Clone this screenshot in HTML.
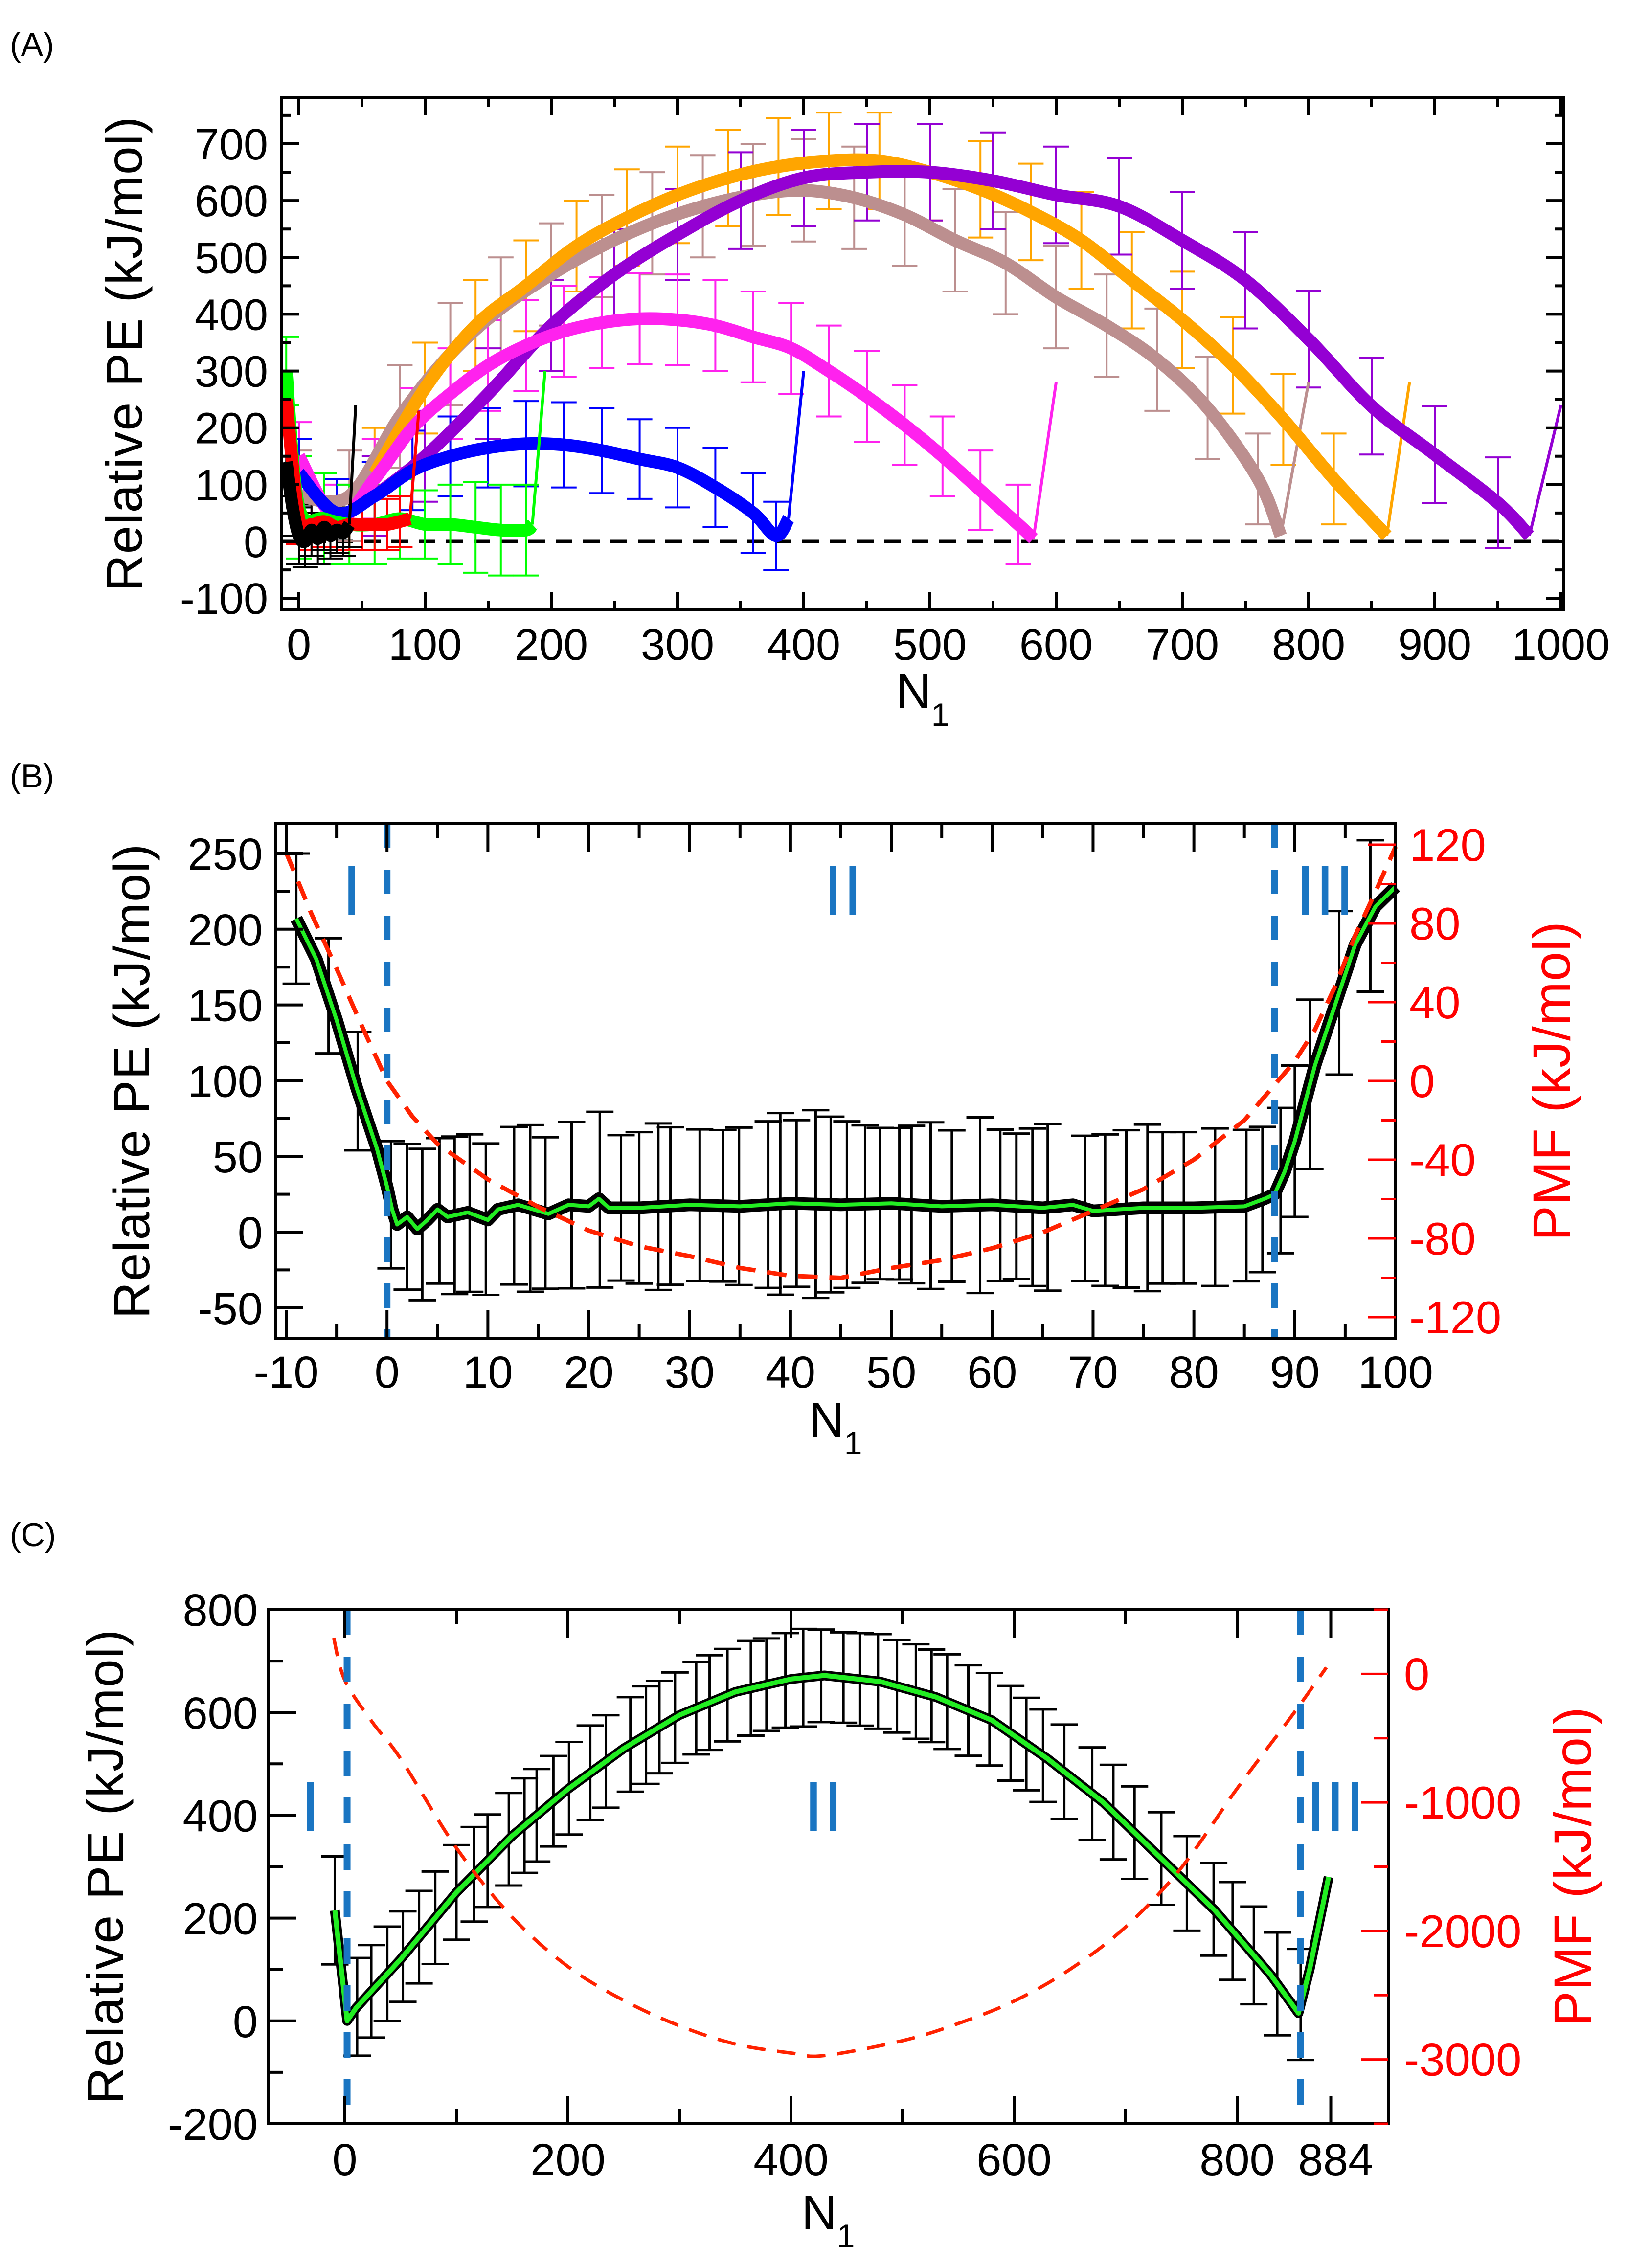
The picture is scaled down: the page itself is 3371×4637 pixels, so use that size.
<!DOCTYPE html>
<html><head><meta charset="utf-8">
<style>
html,body{margin:0;padding:0;background:#fff;}
svg{display:block;}
text{font-family:"Liberation Sans",sans-serif;}
</style></head>
<body>
<svg id="fig" width="3371" height="4637" viewBox="0 0 3371 4637" xmlns="http://www.w3.org/2000/svg">
<rect x="0" y="0" width="3371" height="4637" fill="#fff"/>
</svg>
<script>
// ---------- Panel A data ----------
const aBlackX = [-10, -5, 0, 5, 10, 15, 20, 25, 30, 35, 40, 45];
const aBlackY = [140, 60, 10, 0, 20, 5, 25, 10, 20, 15, 30, 240];
const aBlackErr = [60, 50, 50, 45, 45, 45, 40, 40, 40, 40, 40, 0];
const aRedX = [-10, 0, 10, 20, 30, 40, 50, 60, 70, 80, 88, 95];
const aRedY = [250, 40, 30, 35, 25, 30, 30, 30, 30, 35, 40, 230];
const aRedErr = [50, 45, 45, 45, 45, 45, 45, 45, 45, 45, 0, 0];
const aGreenX = [-10, 0, 20, 40, 60, 80, 100, 120, 140, 160, 180, 185, 195];
const aGreenY = [300, 60, 40, 30, 30, 40, 30, 30, 25, 20, 20, 30, 300];
const aGreenErr = [60, 90, 80, 70, 70, 70, 60, 70, 80, 80, 80, 0, 0];
const aBlueX = [0, 30, 60, 90, 120, 150, 180, 210, 240, 270, 300, 330, 360, 378, 388, 400];
const aBlueY = [120, 50, 80, 125, 150, 165, 172, 170, 160, 145, 130, 95, 50, 10, 40, 300];
const aBlueErr = [60, 60, 60, 70, 70, 70, 75, 75, 75, 70, 70, 70, 70, 60, 0, 0];
const aMagX = [0, 30, 60, 90, 120, 150, 180, 210, 240, 270, 300, 330, 360, 390, 420, 450, 480, 510, 540, 570, 582, 600];
const aMagY = [150, 40, 110, 200, 260, 310, 345, 370, 385, 392, 390, 380, 360, 340, 300, 255, 205, 150, 90, 30, 5, 280];
const aMagErr = [60, 60, 70, 70, 80, 80, 80, 80, 80, 80, 80, 80, 80, 80, 80, 80, 70, 70, 70, 70, 0, 0];
const aTanX = [0, 40, 80, 120, 160, 200, 240, 280, 320, 360, 400, 440, 480, 520, 560, 600, 640, 680, 720, 760, 778, 800];
const aTanY = [80, 80, 220, 330, 410, 470, 520, 560, 590, 610, 618, 605, 575, 530, 490, 430, 380, 320, 235, 110, 10, 280];
const aTanErr = [80, 80, 90, 90, 90, 90, 90, 90, 90, 90, 90, 90, 90, 90, 90, 90, 90, 90, 90, 80, 0, 0];
const aOrX = [60, 100, 140, 180, 220, 260, 300, 340, 380, 420, 460, 500, 540, 580, 620, 660, 700, 740, 780, 820, 862, 880];
const aOrY = [120, 270, 380, 450, 520, 570, 610, 640, 660, 670, 670, 650, 620, 580, 530, 460, 390, 310, 215, 110, 10, 280];
const aOrErr = [80, 80, 80, 80, 80, 85, 85, 85, 85, 85, 85, 85, 85, 85, 85, 85, 85, 85, 80, 80, 0, 0];
const aPurX = [60, 100, 150, 200, 250, 300, 350, 400, 450, 500, 550, 600, 650, 700, 750, 800, 850, 900, 950, 975, 1000];
const aPurY = [80, 150, 260, 380, 470, 540, 600, 640, 650, 650, 635, 610, 590, 530, 460, 356, 238, 153, 68, 10, 240];
const aPurErr = [70, 80, 80, 80, 80, 80, 85, 85, 85, 85, 85, 85, 85, 85, 85, 85, 85, 85, 80, 0, 0];
const aXTicks = [0, 100, 200, 300, 400, 500, 600, 700, 800, 900, 1000];
const aYTicks = [-100, 0, 100, 200, 300, 400, 500, 600, 700];

// ---------- Panel B data ----------
const bX = [-9, -7, -5, -3, -1, 0, 0.5, 1, 2, 3, 4, 5, 6, 8, 10, 11, 13, 16, 18, 20, 21, 22, 25, 30, 35, 40, 45, 50, 55, 60, 65, 68, 70, 75, 80, 85, 87, 88, 89, 90, 92, 94, 96, 98, 100];
const bY = [207, 180, 140, 95, 55, 30, 15, 5, 10, 2, 8, 15, 10, 13, 8, 15, 18, 12, 18, 17, 22, 16, 16, 18, 17, 19, 18, 19, 17, 18, 16, 18, 14, 16, 16, 17, 22, 25, 40, 60, 110, 150, 190, 215, 228];
const bErrX = [-9, -5.8, -2.9, 0.4, 2, 3.5, 5.2, 6.7, 8.2, 9.8, 12.6, 14.2, 15.7, 18.3, 21.1, 23.2, 25, 26.9, 28.1, 31, 33.3, 34.9, 37.8, 39, 40.6, 42.5, 44, 45.6, 47.4, 48.9, 50.8, 52, 53.9, 56, 58.8, 60.8, 62.4, 64, 65.5, 69.2, 71.2, 73.3, 75.4, 76.9, 79, 82.1, 85.2, 86.8, 88.6, 90, 91.5, 94.4, 97.5];
const bErrHalf = [43, 38, 39, 42, 48, 50, 48, 52, 52, 50, 52, 55, 50, 55, 58, 48, 50, 55, 52, 50, 50, 52, 55, 60, 55, 62, 58, 55, 52, 50, 50, 52, 55, 50, 58, 50, 48, 52, 55, 48, 50, 52, 55, 50, 50, 52, 50, 48, 48, 50, 56, 54, 50];
const bPmfX = [-10, -7.5, -5, -2.5, 0, 2.5, 5, 10, 15, 20, 25, 30, 35, 40, 45, 50, 55, 60, 65, 70, 75, 80, 85, 88, 90, 92, 94, 96, 98, 100];
const bPmfY = [116, 85, 57, 28, 0, -18, -32, -50, -64, -76, -84, -89, -95, -99, -100, -95, -91, -85, -77, -66, -55, -40, -20, -2, 10, 26, 48, 74, 96, 119];
const bXTicks = [-10, 0, 10, 20, 30, 40, 50, 60, 70, 80, 90, 100];
const bYTicks = [-50, 0, 50, 100, 150, 200, 250];
const bY2Ticks = [-120, -80, -40, 0, 40, 80, 120];

// ---------- Panel C data ----------
const cX = [-9, 2, 10, 50, 100, 150, 200, 250, 300, 350, 400, 430, 480, 530, 580, 630, 680, 730, 780, 830, 855, 865, 882];
const cY = [215, 0, 25, 120, 250, 360, 451, 530, 595, 640, 665, 672, 660, 630, 585, 510, 425, 320, 215, 90, 15, 100, 280];
const cErrX = [-9, 11, 23.7, 38, 52, 66.5, 81, 100, 116, 128, 147, 161, 172, 187, 201, 220, 234, 256, 270, 282, 296, 315, 327, 343, 364, 378, 395, 411, 427, 447, 462, 478, 495, 512, 526, 540, 559, 578, 597, 611, 626, 645, 670, 689, 708, 732, 755, 779, 796, 815, 836, 857];
const cErrHalf = [105, 95, 90, 92, 88, 90, 90, 92, 92, 90, 90, 92, 90, 88, 90, 92, 90, 92, 95, 90, 88, 90, 92, 90, 92, 90, 92, 95, 90, 88, 90, 92, 90, 92, 90, 92, 88, 90, 92, 90, 90, 92, 90, 92, 90, 90, 92, 90, 95, 95, 100, 108];
const cPmfX = [-10, 0, 25, 50, 100, 150, 200, 250, 300, 350, 400, 430, 500, 550, 600, 650, 700, 750, 800, 850, 880];
const cPmfY = [280, -50, -380, -660, -1354, -1892, -2277, -2540, -2738, -2880, -2950, -2970, -2854, -2720, -2546, -2300, -1969, -1508, -892, -315, 50];
const cXTicks = [0, 200, 400, 600, 800, 884];
const cYTicks = [-200, 0, 200, 400, 600, 800];
const cY2Ticks = [-3000, -2000, -1000, 0];

// ---------- helpers ----------
const NS = 'http://www.w3.org/2000/svg';
const svg = document.getElementById('fig');
function mk(tag, attrs, name, parent) {
  const el = document.createElementNS(NS, tag);
  for (const k in attrs) el.setAttribute(k, attrs[k]);
  
  
  (parent || svg).appendChild(el);
  return el;
}
function txt(x, y, s, size, name, opts) {
  opts = opts || {};
  const el = mk('text', {x: x, y: y, 'font-size': size, fill: opts.fill || '#000', 'text-anchor': opts.anchor || 'middle'}, name);
  if (opts.ls) el.setAttribute('letter-spacing', opts.ls);
  if (opts.rot) el.setAttribute('transform', 'rotate(' + opts.rot + ' ' + x + ' ' + y + ')');
  el.textContent = s;
  return el;
}
function axisFn(d0, d1, p0, p1) { return v => p0 + (v - d0) / (d1 - d0) * (p1 - p0); }
function pathOf(xs, ys, sx, sy) {
  let d = '';
  for (let i = 0; i < xs.length; i++) d += (i ? 'L' : 'M') + sx(xs[i]).toFixed(1) + ' ' + sy(ys[i]).toFixed(1);
  return d;
}
function smoothPath(xs, ys, sx, sy) {
  const P = xs.map((x, i) => [sx(x), sy(ys[i])]);
  let d = 'M' + P[0][0].toFixed(1) + ' ' + P[0][1].toFixed(1);
  for (let i = 0; i < P.length - 1; i++) {
    const p0 = P[Math.max(0, i - 1)], p1 = P[i], p2 = P[i + 1], p3 = P[Math.min(P.length - 1, i + 2)];
    const c1 = [p1[0] + (p2[0] - p0[0]) / 6, p1[1] + (p2[1] - p0[1]) / 6];
    const c2 = [p2[0] - (p3[0] - p1[0]) / 6, p2[1] - (p3[1] - p1[1]) / 6];
    d += 'C' + c1[0].toFixed(1) + ' ' + c1[1].toFixed(1) + ' ' + c2[0].toFixed(1) + ' ' + c2[1].toFixed(1) + ' ' + p2[0].toFixed(1) + ' ' + p2[1].toFixed(1);
  }
  return d;
}
function interp(xs, ys, x) {
  if (x <= xs[0]) return ys[0];
  for (let i = 1; i < xs.length; i++) if (x <= xs[i]) { const t = (x - xs[i-1]) / (xs[i] - xs[i-1]); return ys[i-1] + t * (ys[i] - ys[i-1]); }
  return ys[ys.length - 1];
}
function errBar(x, c, h, sx, sy, color, cap, w, name) {
  const X = sx(x), T = sy(c + h), B = sy(c - h);
  mk('path', {d: 'M' + X + ' ' + T + 'V' + B + 'M' + (X - cap/2) + ' ' + T + 'h' + cap + 'M' + (X - cap/2) + ' ' + B + 'h' + cap, stroke: color, 'stroke-width': w, fill: 'none'}, name);
}
function frame(L, T, R, B, name) {
  mk('rect', {x: L, y: T, width: R - L, height: B - T, fill: 'none', stroke: '#000', 'stroke-width': 6}, name);
}
function xTicks(vals, minor, sx, T, B, major, minorLen, name) {
  for (const v of vals) mk('path', {d: 'M' + sx(v) + ' ' + B + 'v' + (-major) + 'M' + sx(v) + ' ' + T + 'v' + major, stroke: '#000', 'stroke-width': 6}, name + '-major-tick');
  for (const v of minor) mk('path', {d: 'M' + sx(v) + ' ' + B + 'v' + (-minorLen) + 'M' + sx(v) + ' ' + T + 'v' + minorLen, stroke: '#000', 'stroke-width': 6}, name + '-minor-tick');
}
function yTicks(vals, minor, sy, L, R, major, minorLen, both, name) {
  for (const v of vals) mk('path', {d: 'M' + L + ' ' + sy(v) + 'h' + major + (both ? 'M' + R + ' ' + sy(v) + 'h' + (-major) : ''), stroke: '#000', 'stroke-width': 6}, name + '-major-tick');
  for (const v of minor) mk('path', {d: 'M' + L + ' ' + sy(v) + 'h' + minorLen + (both ? 'M' + R + ' ' + sy(v) + 'h' + (-minorLen) : ''), stroke: '#000', 'stroke-width': 6}, name + '-minor-tick');
}
function range(a, b, s) { const r = []; for (let v = a; v <= b + 1e-9; v += s) r.push(v); return r; }
function n1Label(cx, base, name) {
  const t = txt(cx, base, 'N', 100, name);
  const sub = document.createElementNS(NS, 'tspan');
  sub.setAttribute('font-size', 66);
  sub.setAttribute('dy', 36);
  sub.textContent = '1';
  t.appendChild(sub);
}

// ================= PANEL A =================
(function () {
  const L = 576, R = 3196, T = 200, B = 1247;
  const sx = axisFn(0, 1000, 611, 3191), sy = axisFn(0, 700, 1107, 294);
  txt(20, 114, '(A)', 68, 'panel-a-label', {anchor: 'start'});
  mk('line', {x1: L, x2: R, y1: sy(0), y2: sy(0), stroke: '#000', 'stroke-width': 7, 'stroke-dasharray': '34 22'}, 'zero-reference-line');
  const series = [
    ['#bc8f8f', aTanX, aTanY, aTanErr, 'tan-series'],
    ['#ffa500', aOrX, aOrY, aOrErr, 'orange-series'],
    ['#9400d3', aPurX, aPurY, aPurErr, 'purple-series'],
    ['#ff22ee', aMagX, aMagY, aMagErr, 'magenta-series'],
    ['#0000ff', aBlueX, aBlueY, aBlueErr, 'blue-series'],
    ['#00ff00', aGreenX, aGreenY, aGreenErr, 'green-series'],
    ['#ff0000', aRedX, aRedY, aRedErr, 'red-series'],
    ['#000000', aBlackX, aBlackY, aBlackErr, 'black-series']
  ];
  for (const s of series) {
    for (let i = 0; i < s[1].length; i++) if (s[3][i] > 0) errBar(s[1][i], s[2][i], s[3][i], sx, sy, s[0], 52, 4, s[4] + '-error-bar');
  }
  for (const s of series) {
    const n = s[1].length;
    mk('path', {d: smoothPath(s[1].slice(0, n - 1), s[2].slice(0, n - 1), sx, sy), stroke: s[0], 'stroke-width': 26, fill: 'none', 'stroke-linejoin': 'round'}, s[4] + '-band');
    mk('path', {d: pathOf(s[1].slice(n - 2), s[2].slice(n - 2), sx, sy), stroke: s[0], 'stroke-width': 6, fill: 'none'}, s[4] + '-tail');
  }
  mk('rect', {x: 0, y: T - 3, width: L - 3, height: B - T + 6, fill: '#fff'}, 'left-mask');
  frame(L, T, R, B, 'panel-a-frame');
  xTicks(aXTicks, range(50, 950, 100), sx, T, B, 36, 18, 'panel-a-x');
  yTicks(aYTicks, range(-50, 750, 100), sy, L, R, 36, 18, true, 'panel-a-y');
  for (const v of aXTicks) txt(sx(v), 1349, String(v), 90, 'panel-a-x-tick-label');
  for (const v of aYTicks) txt(548, sy(v) + 32, String(v), 90, 'panel-a-y-tick-label', {anchor: 'end'});
  n1Label(1886, 1448, 'panel-a-x-axis-title');
  txt(254 + 36, 723, 'Relative PE (kJ/mol)', 104, 'panel-a-y-axis-title', {rot: -90, ls: 1.5});
})();

// ================= PANEL B =================
(function () {
  const L = 563, R = 2853, T = 1684, B = 2736;
  const sx = axisFn(-10, 100, 585, 2853), sy = axisFn(0, 250, 2519, 1745), sy2 = axisFn(0, 120, 2210, 1727);
  txt(20, 1610, '(B)', 68, 'panel-b-label', {anchor: 'start'});
  for (let i = 0; i < bErrX.length; i++) errBar(bErrX[i], interp(bX, bY, bErrX[i]), bErrHalf[i], sx, sy, '#000', 56, 5, 'panel-b-error-bar');
  mk('path', {d: pathOf(bX, bY, sx, sy), stroke: '#000', 'stroke-width': 26, fill: 'none', 'stroke-linejoin': 'round'}, 'panel-b-raw-pe');
  mk('path', {d: pathOf(bX, bY, sx, sy), stroke: '#22ee22', 'stroke-width': 8, fill: 'none', 'stroke-linejoin': 'round'}, 'panel-b-smoothed-pe');
  mk('path', {d: pathOf(bPmfX, bPmfY, sx, sy2), stroke: '#ff2200', 'stroke-width': 9, fill: 'none', 'stroke-dasharray': '40 24'}, 'panel-b-pmf-curve');
  for (const v of [0, 88]) mk('line', {x1: sx(v), x2: sx(v), y1: T, y2: B, stroke: '#1a75c2', 'stroke-width': 14, 'stroke-dasharray': '50 44'}, 'region-boundary-line');
  txt(sx(-3.5), 1870, 'I', 145, 'region-i-label', {fill: '#1a75c2'});
  txt(sx(45.2), 1870, 'II', 145, 'region-ii-label', {fill: '#1a75c2'});
  txt(sx(93), 1870, 'III', 145, 'region-iii-label', {fill: '#1a75c2'});
  frame(L, T, R, B, 'panel-b-frame');
  xTicks(bXTicks, range(-5, 95, 10), sx, T, B, 57, 30, 'panel-b-x');
  yTicks(bYTicks, range(-25, 225, 50), sy, L, R, 57, 30, false, 'panel-b-y');
  for (const v of bY2Ticks) mk('path', {d: 'M' + R + ' ' + sy2(v) + 'h-56', stroke: '#ff0000', 'stroke-width': 5}, 'panel-b-right-major-tick');
  for (const v of range(-100, 100, 40)) mk('path', {d: 'M' + R + ' ' + sy2(v) + 'h-30', stroke: '#ff0000', 'stroke-width': 5}, 'panel-b-right-minor-tick');
  for (const v of bXTicks) txt(sx(v), 2837, String(v), 92, 'panel-b-x-tick-label');
  for (const v of bYTicks) txt(537, sy(v) + 33, String(v), 92, 'panel-b-y-tick-label', {anchor: 'end'});
  for (const v of bY2Ticks) txt(2881, sy2(v) + 33, String(v), 94, 'panel-b-right-tick-label', {anchor: 'start', fill: '#ff0000'});
  n1Label(1708, 2937, 'panel-b-x-axis-title');
  txt(269 + 36, 2210, 'Relative PE (kJ/mol)', 104, 'panel-b-y-axis-title', {rot: -90, ls: 1.5});
  txt(3171 + 38, 2210, 'PMF (kJ/mol)', 108, 'panel-b-right-axis-title', {rot: -90, fill: '#ff0000', ls: 1});
})();

// ================= PANEL C =================
(function () {
  const L = 548, R = 2838, T = 3291, B = 4342;
  const sx = axisFn(0, 800, 705, 2529), sy = axisFn(-200, 800, 4342, 3291), sy2 = axisFn(-3500, 500, 4342, 3291);
  txt(20, 3161, '(C)', 68, 'panel-c-label', {anchor: 'start'});
  for (let i = 0; i < cErrX.length; i++) errBar(cErrX[i], interp(cX, cY, cErrX[i]), cErrHalf[i], sx, sy, '#000', 56, 5, 'panel-c-error-bar');
  mk('path', {d: pathOf(cX, cY, sx, sy), stroke: '#000', 'stroke-width': 20, fill: 'none', 'stroke-linejoin': 'round'}, 'panel-c-raw-pe');
  mk('path', {d: pathOf(cX, cY, sx, sy), stroke: '#22ee22', 'stroke-width': 10, fill: 'none', 'stroke-linejoin': 'round'}, 'panel-c-smoothed-pe');
  mk('path', {d: smoothPath(cPmfX, cPmfY, sx, sy2), stroke: '#ff2200', 'stroke-width': 7, fill: 'none', 'stroke-dasharray': '38 24'}, 'panel-c-pmf-curve');
  for (const v of [2, 857]) mk('line', {x1: sx(v), x2: sx(v), y1: T, y2: B, stroke: '#1a75c2', 'stroke-width': 14, 'stroke-dasharray': '52 44'}, 'region-boundary-line');
  txt(sx(-31), 3743, 'I', 145, 'region-i-label', {fill: '#1a75c2'});
  txt(sx(429), 3743, 'II', 145, 'region-ii-label', {fill: '#1a75c2'});
  txt(sx(888), 3743, 'III', 145, 'region-iii-label', {fill: '#1a75c2'});
  frame(L, T, R, B, 'panel-c-frame');
  xTicks(cXTicks, range(100, 700, 200), sx, T, B, 57, 30, 'panel-c-x');
  yTicks(cYTicks, range(-100, 700, 200), sy, L, R, 57, 30, false, 'panel-c-y');
  for (const v of cY2Ticks) mk('path', {d: 'M' + R + ' ' + sy2(v) + 'h-56', stroke: '#ff0000', 'stroke-width': 5}, 'panel-c-right-major-tick');
  for (const v of range(-3500, 500, 1000)) mk('path', {d: 'M' + R + ' ' + sy2(v) + 'h-30', stroke: '#ff0000', 'stroke-width': 5}, 'panel-c-right-minor-tick');
  for (const v of cXTicks) txt(sx(v) + (v === 800 ? 0 : v === 884 ? 10 : 0), 4447, String(v), 92, 'panel-c-x-tick-label');
  for (const v of cYTicks) txt(527, sy(v) + 33, String(v), 92, 'panel-c-y-tick-label', {anchor: 'end'});
  for (const v of cY2Ticks) txt(2870, sy2(v) + 33, String(v), 94, 'panel-c-right-tick-label', {anchor: 'start', fill: '#ff0000'});
  n1Label(1693, 4558, 'panel-c-x-axis-title');
  txt(215 + 36, 3816, 'Relative PE (kJ/mol)', 104, 'panel-c-y-axis-title', {rot: -90, ls: 1.5});
  txt(3214 + 38, 3816, 'PMF (kJ/mol)', 108, 'panel-c-right-axis-title', {rot: -90, fill: '#ff0000', ls: 1});
})();
</script>
</body></html>
